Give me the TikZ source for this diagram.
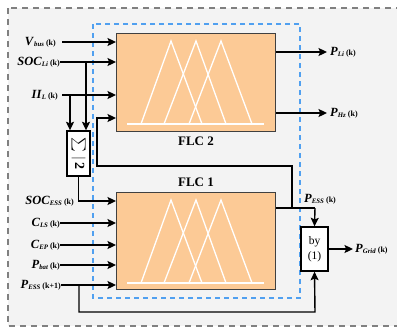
\documentclass[tikz,border=0pt]{standalone}
\usepackage{fontspec}
\setmainfont{Liberation Serif}
\usetikzlibrary{arrows.meta}
\definecolor{peach}{RGB}{252,202,150}
\definecolor{bgray}{RGB}{243,243,243}
\definecolor{dgray}{RGB}{128,128,128}
\definecolor{dblue}{RGB}{80,160,240}
\newcommand{\sig}[3]{\textbf{\textit{#1}}\raisebox{-1.6pt}{\fontsize{6.8}{7}\selectfont\bfseries\itshape #2}\,{\fontsize{8}{9}\selectfont\bfseries(#3)}}
\tikzset{
  arr/.style={line width=1.4pt,-{Stealth[length=8.5pt,width=8pt,inset=1.6pt]}},
  ln/.style={line width=1.4pt},
  flcbox/.style={draw=black!75,line width=1.2pt,fill=peach},
  whitebox/.style={draw=black,line width=1.4pt,fill=white},
  lbl/.style={inner sep=0pt,font=\fontsize{12.5}{14}\selectfont},
  mf/.style={draw=white,line width=1.3pt},
}
\newcommand{\mfset}{%
  \draw[mf] (11,91) -- (148,91);
  \draw[mf] (25,91) -- (55,8) -- (86,91);
  \draw[mf] (48,91) -- (80,8) -- (110,91);
  \draw[mf] (73,91) -- (105,8) -- (136,91);}
\begin{document}
\begin{tikzpicture}[x=1pt,y=-1pt]
\useasboundingbox (0,0) rectangle (397,327);
\clip (0,0) rectangle (397,327);
\fill[white] (0,0) rectangle (397,327);
\draw[dgray,fill=bgray,line width=1.1pt,dash pattern=on 6pt off 5pt] (8,8) rectangle (404,326);
\draw[dblue,line width=1.2pt,dash pattern=on 5pt off 4pt] (93,24) rectangle (300,298);

% FLC boxes
\node[flcbox,minimum width=159pt,minimum height=98pt,inner sep=0pt,anchor=north west] (flc2) at (116,33) {};
\begin{scope}[shift={(116,33)}]\mfset\end{scope}
\node[flcbox,minimum width=159pt,minimum height=97pt,inner sep=0pt,anchor=north west] (flc1) at (116,192) {};
\begin{scope}[shift={(116,192)}]\mfset\end{scope}
\node[font=\fontsize{13}{14}\selectfont\bfseries,inner sep=0pt] (flc2lbl) at (196,141) {FLC 2};
\node[font=\fontsize{13}{14}\selectfont\bfseries,inner sep=0pt] (flc1lbl) at (196,182) {FLC 1};

% small boxes
\node[whitebox,minimum width=23pt,minimum height=45pt,inner sep=0pt] (sum) at (78.5,153.5) {};
\node[rotate=-90,inner sep=0pt] (sumtxt) at (sum.center) {\scalebox{1.4}{$\textstyle\sum\,|\,\mathbf{2}$}};
\node[whitebox,minimum width=27pt,minimum height=44pt,inner sep=0pt,align=center,font=\fontsize{11.5}{15}\selectfont] (by) at (314.5,249) {by\\(1)};

% input labels
\node[lbl,anchor=east] (vbus) at (56,42) {\sig{V}{bus}{k}};
\node[lbl,anchor=east] (socli) at (60,62) {\sig{SOC}{Li}{k}};
\node[lbl,anchor=east] (il) at (58,95) {\sig{II}{L}{k}};
\node[lbl,anchor=east] (socess) at (74,201) {\sig{SOC}{ESS}{k}};
\node[lbl,anchor=east] (cls) at (60,223) {\sig{C}{LS}{k}};
\node[lbl,anchor=east] (cep) at (60,245) {\sig{C}{EP}{k}};
\node[lbl,anchor=east] (pbat) at (60,265) {\sig{P}{bat}{k}};
\node[lbl,anchor=east] (pessk1) at (61,285) {\sig{P}{ESS}{k+1}};

% output labels
\node[lbl,anchor=west] (pli) at (330,52) {\sig{P}{Li}{k}};
\node[lbl,anchor=west] (phz) at (330,113) {\sig{P}{Hz}{k}};
\node[lbl,anchor=west] (pess) at (304,199) {\sig{P}{ESS}{k}};
\node[lbl,anchor=west] (pgrid) at (355,249) {\sig{P}{Grid}{k}};

% coordinates
\coordinate (jsoc) at (86,62);
\coordinate (jil) at (70,95);
\coordinate (jout) at (292,208);
\coordinate (jout2) at (315,208);
\coordinate (jp) at (79,285);
\coordinate (fbin) at (116,118);

% FLC2 inputs
\draw[arr] ([xshift=6pt]vbus.east) -- (vbus.east -| flc2.west);
\draw[arr] (socli.east) -- (socli.east -| flc2.west);
\draw[arr] ([xshift=4pt]il.east) -- (il.east -| flc2.west);
\draw[arr] (jsoc) -- (jsoc |- sum.north);
\draw[arr] (jil) -- (jil |- sum.north);
\draw[arr] (jout) |- (97,166) |- (fbin);

% FLC2 outputs
\draw[arr] (flc2.east |- pli.west) -- ([xshift=-3pt]pli.west);
\draw[arr] (flc2.east |- phz.west) -- ([xshift=-3pt]phz.west);

% FLC1 inputs
\draw[arr] (sum.south) |- (socess.east -| flc1.west);
\draw[arr] (cls.east) -- (cls.east -| flc1.west);
\draw[arr] (cep.east) -- (cep.east -| flc1.west);
\draw[arr] (pbat.east) -- (pbat.east -| flc1.west);
\draw[arr] (pessk1.east) -- (pessk1.east -| flc1.west);

% FLC1 output to by(1)
\draw[ln] (flc1.east |- jout) -- (jout2);
\draw[arr] (jout2) -- (by.north);
\draw[arr] (jp) |- (315,312) -- (by.south);
\draw[arr] (by.east) -- ([xshift=-2pt]pgrid.west);
\end{tikzpicture}
\end{document}
